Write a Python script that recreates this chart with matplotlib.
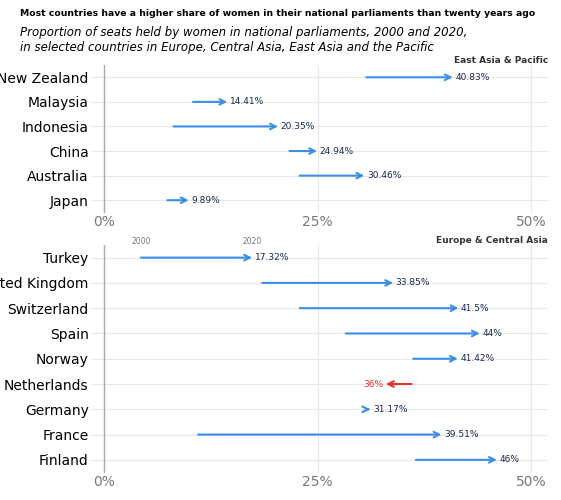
import matplotlib.pyplot as plt

asia_countries = ["New Zealand", "Malaysia", "Indonesia", "China", "Australia", "Japan"]
asia_2000 = [30.7, 10.4, 8.1, 21.7, 22.9, 7.4]
asia_2020 = [40.83, 14.41, 20.35, 24.94, 30.46, 9.89]
asia_labels = ["40.83%", "14.41%", "20.35%", "24.94%", "30.46%", "9.89%"]

eu_countries = ["Turkey", "United Kingdom", "Switzerland", "Spain", "Norway",
                "Netherlands", "Germany", "France", "Finland"]
eu_2000 = [4.3, 18.5, 22.9, 28.3, 36.2, 36.0, 30.8, 11.0, 36.5]
eu_2020 = [17.32, 33.85, 41.5, 44.0, 41.42, 33.0, 31.17, 39.51, 46.0]
eu_labels = ["17.32%", "33.85%", "41.5%", "44%", "41.42%", "36%", "31.17%", "39.51%", "46%"]

blue = "#3a8ee6"
red = "#e8322a"

fig = plt.figure(figsize=(5.61, 5), dpi=100)
ax1 = fig.add_axes([0.163, 0.575, 0.814, 0.295])
ax2 = fig.add_axes([0.163, 0.055, 0.814, 0.455])

def draw(ax, countries, start, end, labels, title):
    n = len(countries)
    for i in range(n):
        y = n - 1 - i
        c = blue if end[i] >= start[i] else red
        ax.annotate("", xy=(end[i], y), xytext=(start[i], y),
                    arrowprops=dict(arrowstyle="->", color=c, lw=1.5, mutation_scale=10,
                                    shrinkA=0, shrinkB=0))
        if end[i] >= start[i]:
            ax.text(end[i] + 0.3, y, labels[i], fontsize=6.5, va="center", ha="left", color="#1a2a50")
        else:
            ax.text(end[i] - 0.3, y, labels[i], fontsize=6.5, va="center", ha="right", color=red)
    ax.set_yticks(range(n))
    ax.set_yticklabels(countries[::-1], fontsize=10)
    ax.set_ylim(-0.5, n - 0.5)
    ax.set_xlim(-1.5, 52)
    ax.set_xticks([0, 25, 50])
    ax.set_xticklabels(["0%", "25%", "50%"], fontsize=10, color="#777777")
    ax.tick_params(length=0, pad=2)
    ax.grid(True, color="#e8e8e8", lw=0.8)
    ax.set_axisbelow(True)
    for s in ax.spines.values():
        s.set_visible(False)
    ax.axvline(0, color="#aaaaaa", lw=1)
    ax.text(1.0, 1.0, title, transform=ax.transAxes, ha="right", va="bottom",
            fontsize=6.5, fontweight="bold", color="#333333")

draw(ax1, asia_countries, asia_2000, asia_2020, asia_labels, "East Asia & Pacific")
draw(ax2, eu_countries, eu_2000, eu_2020, eu_labels, "Europe & Central Asia")

n = len(eu_countries)
ax2.text(eu_2000[0], n - 0.55, "2000", fontsize=5.5, color="#777777", ha="center", va="bottom")
ax2.text(17.3, n - 0.55, "2020", fontsize=5.5, color="#777777", ha="center", va="bottom")

fig.text(0.035, 0.972, "Most countries have a higher share of women in their national parliaments than twenty years ago",
         fontsize=6.7, fontweight="bold", va="center")
fig.text(0.035, 0.92, "Proportion of seats held by women in national parliaments, 2000 and 2020,\n"
         "in selected countries in Europe, Central Asia, East Asia and the Pacific",
         fontsize=8.5, style="italic", va="center")

fig.savefig("out.png", dpi=100)
